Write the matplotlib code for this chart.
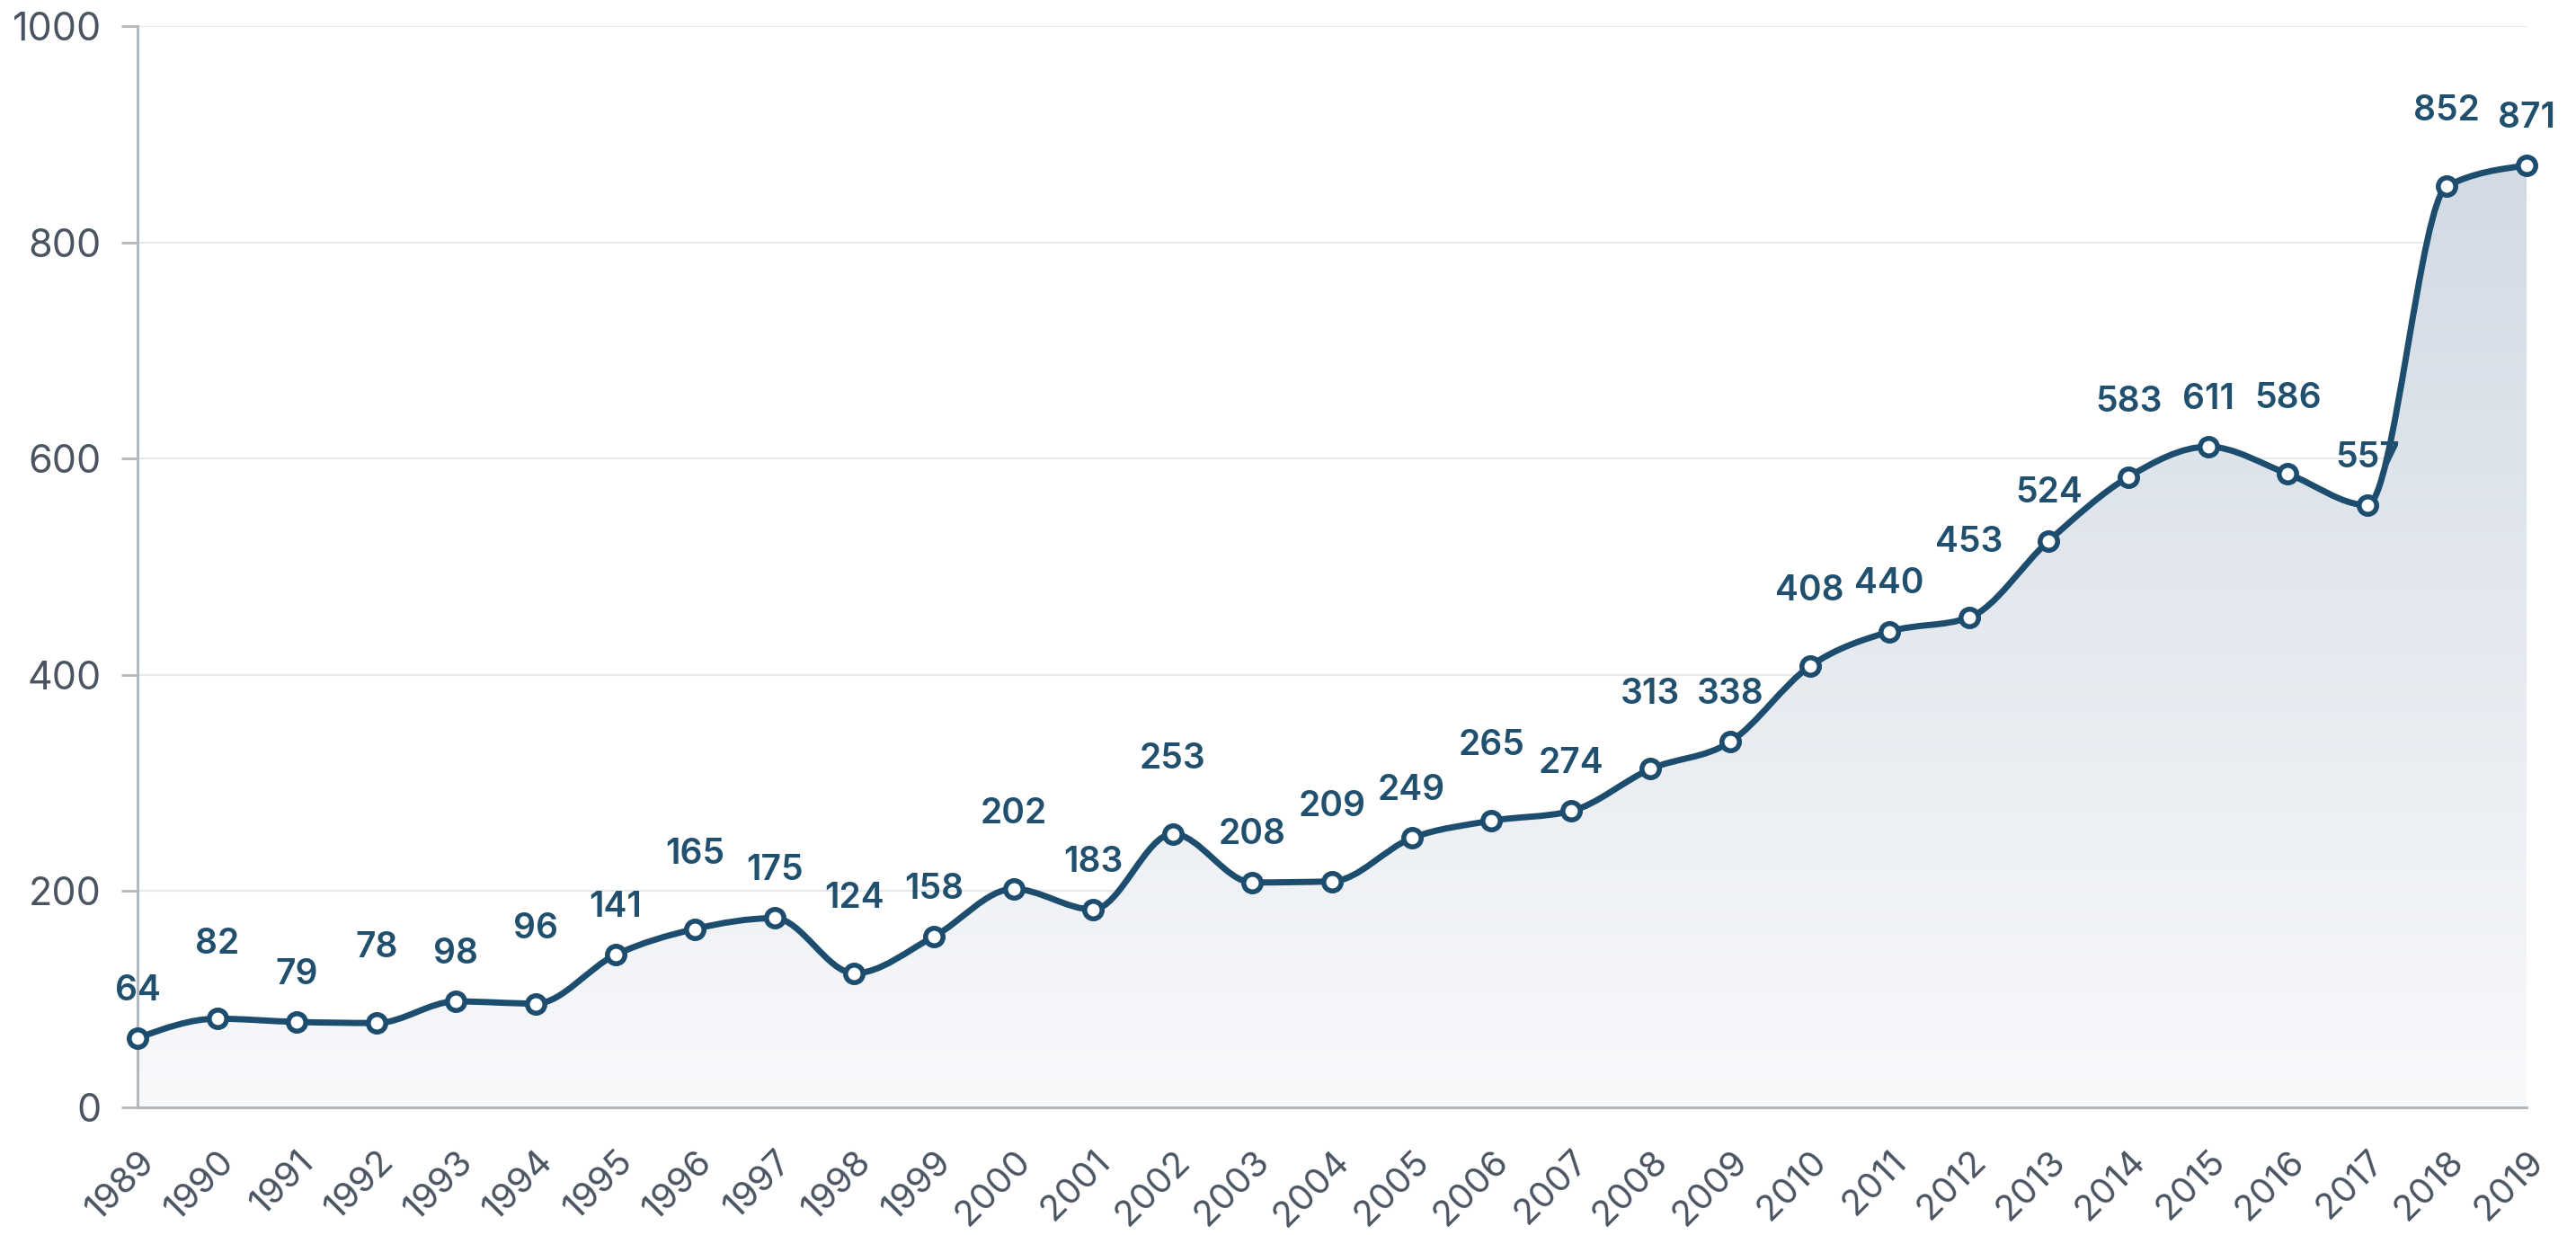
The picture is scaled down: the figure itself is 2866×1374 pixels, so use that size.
import numpy as np
import matplotlib.pyplot as plt
from matplotlib.path import Path
from matplotlib.patches import PathPatch
from matplotlib.colors import LinearSegmentedColormap

years = list(range(1989, 2020))
values = [64, 82, 79, 78, 98, 96, 141, 165, 175, 124, 158, 202, 183, 253, 208,
          209, 249, 265, 274, 313, 338, 408, 440, 453, 524, 583, 611, 586, 557,
          852, 871]
yticks = [0, 200, 400, 600, 800, 1000]

line_color = '#1d4d6e'
label_color = '#21506f'
tick_color = '#4a5561'

plt.rcParams['font.family'] = ['Inter', 'DejaVu Sans']


def monotone_path(x, y):
    # cubic bezier path with monotone tangents (same idea as d3 curveMonotoneX)
    x = np.asarray(x, float)
    y = np.asarray(y, float)
    h = np.diff(x)
    s = np.diff(y) / h
    t = np.zeros(len(x))
    for i in range(1, len(x) - 1):
        s0, s1 = s[i - 1], s[i]
        p = (s0 * h[i] + s1 * h[i - 1]) / (h[i - 1] + h[i])
        t[i] = (np.sign(s0) + np.sign(s1)) * min(abs(s0), abs(s1), 0.5 * abs(p))
    t[0] = (3 * s[0] - t[1]) / 2
    t[-1] = (3 * s[-1] - t[-2]) / 2
    verts = [(x[0], y[0])]
    codes = [Path.MOVETO]
    for i in range(len(x) - 1):
        dx = h[i] / 3
        verts += [(x[i] + dx, y[i] + dx * t[i]),
                  (x[i + 1] - dx, y[i + 1] - dx * t[i + 1]),
                  (x[i + 1], y[i + 1])]
        codes += [Path.CURVE4] * 3
    return verts, codes


fig = plt.figure(figsize=(28.66, 13.74), dpi=100)
ax = fig.add_axes([153 / 2866, 1 - 1232 / 1374, (2811 - 153) / 2866, (1232 - 29) / 1374])

verts, codes = monotone_path(years, values)

# gradient area under the curve
area_verts = verts + [(years[-1], 0), (years[0], 0), verts[0]]
area_codes = codes + [Path.LINETO, Path.LINETO, Path.CLOSEPOLY]
area = PathPatch(Path(area_verts, area_codes), facecolor='none', edgecolor='none')
ax.add_patch(area)
cmap = LinearSegmentedColormap.from_list('fade', ['#f8f9fb', '#d2dae4'])
grad = np.linspace(0, 1, 256).reshape(-1, 1)
img = ax.imshow(grad, extent=[years[0], years[-1], 0, max(values)], origin='lower',
                aspect='auto', cmap=cmap, zorder=1)
img.set_clip_path(area)

ax.add_patch(PathPatch(Path(verts, codes), facecolor='none', edgecolor=line_color,
                       lw=5, zorder=3, capstyle='round', joinstyle='round'))
ax.plot(years, values, 'o', ms=14, mfc='white', mec=line_color, mew=4,
        zorder=4, clip_on=False)

for i, (x, v) in enumerate(zip(years, values)):
    off = 38 if i % 2 == 0 else 60
    ax.annotate(str(v), (x, v), xytext=(0, off), textcoords='offset points',
                ha='center', va='center', fontsize=28, fontweight='semibold',
                color=label_color, zorder=5)

ax.set_xlim(years[0], years[-1])
ax.set_ylim(0, 1000)
ax.set_yticks(yticks)
ax.set_xticks(years)
ax.set_xticklabels([str(y) for y in years], rotation=45, ha='right',
                   rotation_mode='anchor')
ax.grid(axis='y', color='#e6e8eb', lw=1.5, zorder=0)
ax.set_axisbelow(True)

for side in ['top', 'right']:
    ax.spines[side].set_visible(False)
for side in ['left', 'bottom']:
    ax.spines[side].set_color('#b3b8bd')
    ax.spines[side].set_linewidth(2.2)

ax.tick_params(axis='y', length=13, width=2, color='#b3b8bd', pad=16,
               labelsize=31, labelcolor=tick_color)
ax.tick_params(axis='x', length=0, pad=30, labelsize=29, labelcolor=tick_color)

plt.savefig('out.png', dpi=100)
